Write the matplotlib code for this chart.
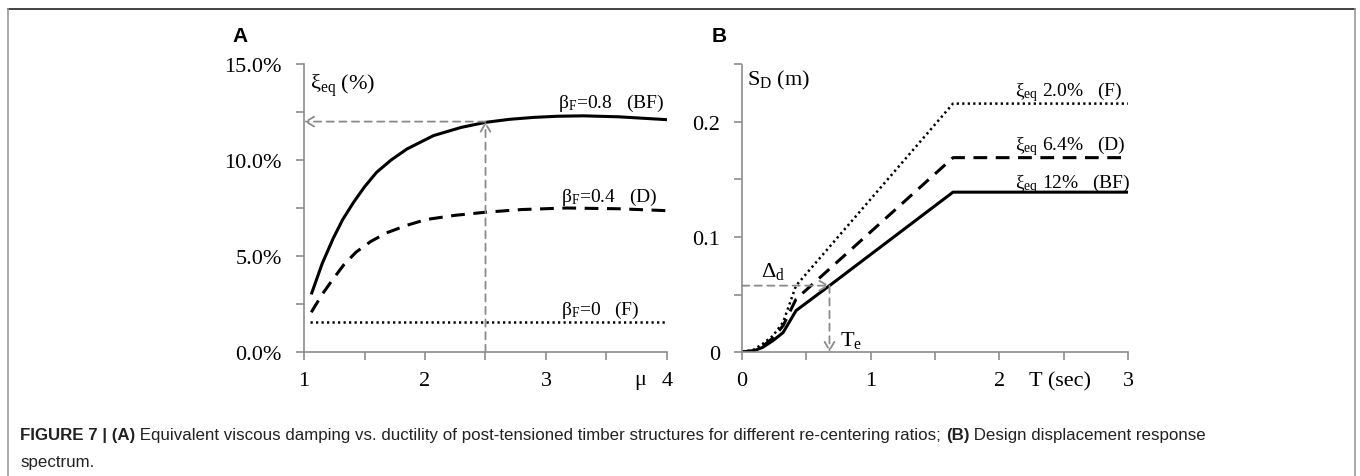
import matplotlib
matplotlib.use("Agg")
import matplotlib.pyplot as plt
from matplotlib.ticker import MultipleLocator, FixedLocator
from matplotlib.lines import Line2D

plt.rcParams['mathtext.fontset'] = 'custom'
plt.rcParams['mathtext.rm'] = 'Liberation Serif'
plt.rcParams['mathtext.it'] = 'Liberation Serif:italic'
plt.rcParams['mathtext.bf'] = 'Liberation Serif:bold'
plt.rcParams['font.family'] = ['Liberation Serif', 'DejaVu Serif']

# ---------------- Data: panel A (damping vs ductility) ----------------
mu_bf = [1.06, 1.15, 1.24, 1.32, 1.41, 1.50, 1.60, 1.72, 1.85, 2.07, 2.30, 2.50, 2.70, 2.90, 3.10, 3.31, 3.60, 4.00]
xi_bf = [3.0, 4.6, 5.9, 6.9, 7.8, 8.6, 9.36, 10.0, 10.57, 11.27, 11.7, 11.96, 12.12, 12.22, 12.28, 12.3, 12.25, 12.1]
mu_d = [1.06, 1.15, 1.24, 1.33, 1.43, 1.55, 1.68, 1.85, 2.01, 2.25, 2.50, 2.80, 3.17, 3.60, 4.00]
xi_d = [2.07, 3.0, 3.8, 4.55, 5.2, 5.75, 6.2, 6.6, 6.9, 7.12, 7.28, 7.42, 7.5, 7.46, 7.36]
mu_f = [1.05, 4.00]
xi_f = [1.55, 1.55]
mu_target = 2.5
xi_target = 12.0
labels_a = ["β$_{\\mathrm{F}}$=0.8   (BF)", "β$_{\\mathrm{F}}$=0.4   (D)", "β$_{\\mathrm{F}}$=0   (F)"]

# ---------------- Data: panel B (displacement spectra) ----------------
T_bf = [0.0, 0.09, 0.16, 0.24, 0.32, 0.42, 0.68, 1.64, 3.0]
sd_bf = [0.0, 0.001, 0.004, 0.0098, 0.017, 0.036, 0.0577, 0.139, 0.139]
T_d = [0.0, 0.09, 0.16, 0.24, 0.32, 0.42, 1.64, 3.0]
sd_d = [0.0, 0.001, 0.005, 0.012, 0.023, 0.046, 0.169, 0.169]
T_f = [0.0, 0.09, 0.16, 0.24, 0.32, 0.42, 1.64, 3.0]
sd_f = [0.0, 0.002, 0.007, 0.014, 0.026, 0.0577, 0.216, 0.216]
T_e = 0.68
delta_d = 0.0577
labels_b = ["ξ$_{\\mathrm{eq}}$ 2.0%   (F)", "ξ$_{\\mathrm{eq}}$ 6.4%   (D)", "ξ$_{\\mathrm{eq}}$ 12%   (BF)"]

caption_l1 = [("FIGURE 7 | (A)", True),
              (" Equivalent viscous damping vs. ductility of post-tensioned timber structures for different re-centering ratios; ", False),
              ("(B)", True), (" Design displacement response", False)]
caption_l2 = "spectrum."

W, H = 1360, 477
fig = plt.figure(figsize=(W / 100, H / 100), dpi=100)

AX_COLOR = '#8c8c8c'
GRAY = '#8a8a8a'
TICK_FS = 16


def style_axes(ax):
    for s in ['top', 'right']:
        ax.spines[s].set_visible(False)
    for s in ['left', 'bottom']:
        ax.spines[s].set_color(AX_COLOR)
        ax.spines[s].set_linewidth(1.2)
    ax.tick_params(which='both', direction='out', color=AX_COLOR, width=1.2, labelsize=TICK_FS, pad=8)
    ax.tick_params(which='major', length=6)
    ax.tick_params(which='minor', length=6)
    ax.patch.set_alpha(0)


def fx(px):
    return px / W


def fy(py):
    return 1 - py / H


# Panel A
axA = fig.add_axes([fx(304), fy(353), fx(667) - fx(304), fy(65) - fy(353)])
style_axes(axA)
axA.set_xlim(1, 4)
axA.set_ylim(0, 15)
axA.xaxis.set_major_locator(FixedLocator([1, 2, 3, 4]))
axA.xaxis.set_minor_locator(MultipleLocator(0.5))
axA.set_yticks([0, 5, 10, 15])
axA.set_yticklabels(["0.0%", "5.0%", "10.0%", "15.0%"])
axA.yaxis.set_minor_locator(MultipleLocator(2.5))
axA.tick_params(axis='y', pad=10)

axA.plot(mu_bf, xi_bf, color='black', lw=2.2, solid_capstyle='butt')
axA.plot(mu_d, xi_d, color='black', lw=2.2, dashes=(4.5, 2.8))
axA.plot(mu_f, xi_f, color='black', lw=1.8, dashes=(0.9, 1.3))

arrow_kw = dict(arrowstyle='->,head_length=0.6,head_width=0.35', color=GRAY, lw=1.3,
                linestyle=(0, (4, 3)), shrinkA=0, shrinkB=0)
axA.annotate('', xy=(mu_target, xi_target), xytext=(mu_target, 0), arrowprops=arrow_kw)
axA.annotate('', xy=(1.0, xi_target), xytext=(mu_target, xi_target), arrowprops=arrow_kw)

axA.text(3.1, 12.75, labels_a[0], fontsize=14, ha='left', va='baseline')
axA.text(3.12, 7.85, labels_a[1], fontsize=14, ha='left', va='baseline')
axA.text(3.12, 2.0, labels_a[2], fontsize=14, ha='left', va='baseline')
axA.text(1.05, 13.7, "ξ$_{\\mathrm{eq}}$ (%)", fontsize=16, ha='left', va='baseline')
axA.text(3.78, -0.95, "μ", fontsize=16, ha='center', va='top')

# Panel B
axB = fig.add_axes([fx(742), fy(353), fx(1128) - fx(742), fy(65.5) - fy(353)])
style_axes(axB)
axB.set_xlim(0, 3)
axB.set_ylim(0, 0.25)
axB.xaxis.set_major_locator(FixedLocator([0, 1, 2, 3]))
axB.xaxis.set_minor_locator(MultipleLocator(0.5))
axB.set_yticks([0, 0.1, 0.2])
axB.set_yticklabels(["0", "0.1", "0.2"])
axB.yaxis.set_minor_locator(MultipleLocator(0.05))
axB.tick_params(axis='y', pad=10)

axB.plot(T_bf, sd_bf, color='black', lw=2.2)
axB.plot(T_d, sd_d, color='black', lw=2.2, dashes=(4.5, 2.8))
axB.plot(T_f, sd_f, color='black', lw=1.8, dashes=(0.9, 1.3))

axB.annotate('', xy=(T_e, delta_d), xytext=(0, delta_d), arrowprops=arrow_kw)
axB.annotate('', xy=(T_e, 0), xytext=(T_e, delta_d), arrowprops=arrow_kw)

axB.text(2.12, 0.2235, labels_b[0], fontsize=14, ha='left', va='baseline')
axB.text(2.12, 0.1765, labels_b[1], fontsize=14, ha='left', va='baseline')
axB.text(2.12, 0.1435, labels_b[2], fontsize=14, ha='left', va='baseline')
axB.text(0.04, 0.233, "S$_{\\mathrm{D}}$ (m)", fontsize=16, ha='left', va='baseline')
axB.text(0.15, 0.066, "Δ$_{\\mathrm{d}}$", fontsize=16, ha='left', va='baseline')
axB.text(0.76, 0.006, "T$_{\\mathrm{e}}$", fontsize=16, ha='left', va='baseline')
axB.text(2.47, -0.0165, "T (sec)", fontsize=16, ha='center', va='top')

# Panel letters
fig.text(fx(232), fy(42), "A", fontsize=15, fontweight='bold', family=['Liberation Sans', 'DejaVu Sans'],
         ha='left', va='baseline')
fig.text(fx(712), fy(42), "B", fontsize=15, fontweight='bold', family=['Liberation Sans', 'DejaVu Sans'],
         ha='left', va='baseline')

# Frame lines
fig.add_artist(Line2D([fx(8), fx(1355)], [fy(10), fy(10)], color='#222222', lw=1.2))
fig.add_artist(Line2D([fx(8), fx(8)], [fy(10), 0], color='#999999', lw=1.2))
fig.add_artist(Line2D([fx(1355), fx(1355)], [fy(10), 0], color='#999999', lw=1.2))

# Caption
cap_family = ['Liberation Sans Narrow', 'Liberation Sans', 'DejaVu Sans']
CAP_FS = 12.2
renderer = fig.canvas.get_renderer()
x = fx(20)
for txt, bold in caption_l1:
    t = fig.text(x, fy(440), txt, fontsize=CAP_FS, family=cap_family,
                 fontweight='bold' if bold else 'normal', ha='left', va='baseline', color='#222222')
    bb = t.get_window_extent(renderer=renderer)
    x += bb.width / W
fig.text(fx(20), fy(467), caption_l2, fontsize=CAP_FS, family=cap_family, ha='left', va='baseline', color='#222222')

fig.savefig("out.png", dpi=100)
